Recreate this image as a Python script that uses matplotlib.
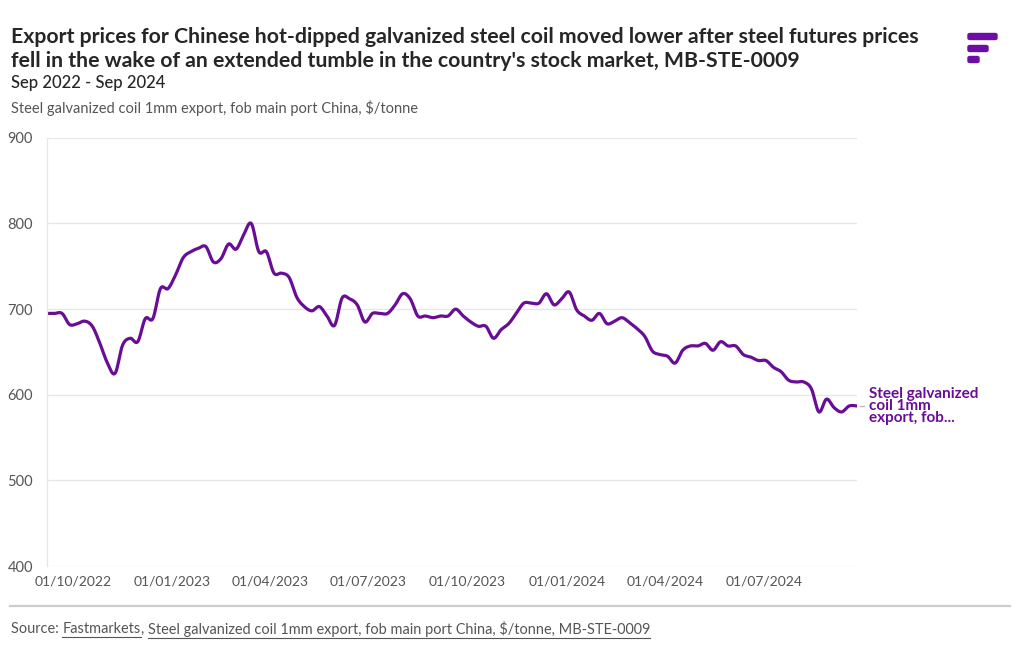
import matplotlib
matplotlib.use("Agg")
import matplotlib.pyplot as plt
import matplotlib.dates as mdates
from matplotlib.patches import FancyBboxPatch
import numpy as np
import pandas as pd

plt.rcParams['font.family'] = ['Lato', 'DejaVu Sans']

# weekly assessments, $/tonne
start_date = "2022-09-07"
prices = [695, 695, 695, 682, 683, 686, 680, 660, 637, 625,
          658, 666, 662, 689, 689, 724, 724, 740, 760, 767,
          771, 773, 755, 759, 776, 770, 787, 800, 767, 767,
          742, 742, 737, 714, 703, 698, 703, 692, 681, 713,
          712, 705, 685, 695, 695, 695, 705, 718, 712, 692,
          692, 690, 692, 692, 700, 692, 685, 680, 680, 666,
          676, 683, 695, 707, 707, 707, 718, 705, 712, 720,
          699, 692, 687, 695, 683, 686, 690, 684, 677, 668,
          651, 647, 645, 637, 652, 657, 657, 660, 652, 662,
          657, 657, 647, 644, 640, 640, 632, 627, 617, 615,
          615, 607, 580, 595, 585, 580, 587, 587]
dates = pd.date_range(start_date, periods=len(prices), freq="7D")

tick_dates = ["2022-10-01", "2023-01-01", "2023-04-01", "2023-07-01",
              "2023-10-01", "2024-01-01", "2024-04-01", "2024-07-01"]
y_ticks = [400, 500, 600, 700, 800, 900]

series_name = "Steel galvanized coil 1mm export, fob main port China, $/tonne"
title = ("Export prices for Chinese hot-dipped galvanized steel coil moved lower after steel futures prices\n"
         "fell in the wake of an extended tumble in the country's stock market, MB-STE-0009")

PURPLE = "#6a0d96"
GREY = "#555555"


def catmull_rom(x, y, n=10):
    # smooth curve through the points, like the spline in the original
    x = np.asarray(x, float)
    y = np.asarray(y, float)
    xs, ys = [], []
    last = len(x) - 1
    for i in range(last):
        i0, i3 = max(i - 1, 0), min(i + 2, last)
        for t in np.linspace(0, 1, n, endpoint=False):
            t2, t3 = t * t, t * t * t
            a = -0.5 * t3 + t2 - 0.5 * t
            b = 1.5 * t3 - 2.5 * t2 + 1
            c = -1.5 * t3 + 2 * t2 + 0.5 * t
            d = 0.5 * t3 - 0.5 * t2
            xs.append(a * x[i0] + b * x[i] + c * x[i + 1] + d * x[i3])
            ys.append(a * y[i0] + b * y[i] + c * y[i + 1] + d * y[i3])
    xs.append(x[-1])
    ys.append(y[-1])
    return np.array(xs), np.array(ys)


fig = plt.figure(figsize=(10.2, 6.5), dpi=100)
ax = fig.add_axes([0.046, 0.129, 0.794, 0.659])

xn = mdates.date2num(dates)
sx, sy = catmull_rom(xn, prices)
ax.plot(sx, sy, color=PURPLE, lw=2.3, solid_capstyle="round", solid_joinstyle="round")

ax.set_ylim(400, 900)
ax.set_xlim(mdates.date2num(pd.Timestamp("2022-09-07")), mdates.date2num(pd.Timestamp("2024-09-25")))
ax.set_yticks(y_ticks)
ax.set_xticks(mdates.date2num(pd.to_datetime(tick_dates)))
ax.xaxis.set_major_formatter(mdates.DateFormatter("%d/%m/%Y"))
ax.tick_params(axis="both", length=0, labelsize=10.5, labelcolor=GREY)
ax.tick_params(axis="x", labelsize=10, pad=7)
ax.tick_params(axis="y", pad=10)
ax.grid(axis="y", color="#e6e6e6", lw=0.9)
ax.set_axisbelow(True)
for s in ["top", "right", "bottom"]:
    ax.spines[s].set_visible(False)
ax.spines["left"].set_color("#e6e6e6")
ax.spines["left"].set_linewidth(0.9)

# end label
ax.plot([xn[-1] + 3, xn[-1] + 7], [prices[-1], prices[-1]], color="#bbbbbb", lw=1,
        clip_on=False)
ax.text(xn[-1] + 11, prices[-1], "Steel galvanized\ncoil 1mm\nexport, fob...",
        color=PURPLE, fontsize=11, fontweight="bold", va="center", ha="left",
        linespacing=0.85, clip_on=False)

# titles
fig.text(0.011, 0.958, title, fontsize=15.3, fontweight="bold", color="#262626",
         va="top", ha="left", linespacing=1.2)
fig.text(0.011, 0.873, "Sep 2022 - Sep 2024", fontsize=12, fontweight="medium",
         color="#262626", va="center", ha="left")
fig.text(0.011, 0.834, series_name, fontsize=10.5, color=GREY, va="center", ha="left")

# logo
for (x0, w), yc in zip([(968, 29), (968, 20), (968, 11)], [36.5, 48.5, 59.5]):
    fig.patches.append(FancyBboxPatch((x0 / 1020, 1 - (yc + 3) / 650), w / 1020, 6 / 650,
                                      boxstyle="round,pad=0,rounding_size=0.002",
                                      transform=fig.transFigure, color="#6c0ea6"))

# footer
fig.add_artist(plt.Line2D([0.01, 0.99], [1 - 606 / 650, 1 - 606 / 650],
                          transform=fig.transFigure, color="#cccccc", lw=1.6))
renderer = fig.canvas.get_renderer()
pieces = [("Source: ", False), ("Fastmarkets", True), (", ", False),
          (series_name + ", MB-STE-0009", True)]
xpos = 11
ypos = 650 - 629
for txt, underline in pieces:
    t = fig.text(xpos / 1020, ypos / 650, txt, fontsize=10.45, color=GREY,
                 va="center", ha="left")
    bb = t.get_window_extent(renderer=renderer)
    if underline:
        uy = (bb.y0 - 1) / 650
        fig.add_artist(plt.Line2D([bb.x0 / 1020, bb.x1 / 1020], [uy, uy],
                                  transform=fig.transFigure, color=GREY, lw=0.8))
    xpos = bb.x1

fig.savefig("out.png", dpi=100)
